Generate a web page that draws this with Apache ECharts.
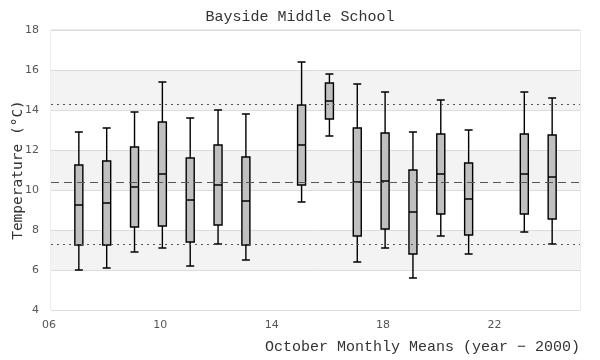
<!DOCTYPE html>
<html><head><meta charset="utf-8">
<script src="https://cdn.jsdelivr.net/npm/echarts@6/dist/echarts.min.js"></script>
<style>html,body{margin:0;padding:0;background:#fff}#c{width:600px;height:360px}</style>
</head><body><div id="c"></div>
<script>
const years = [7, 8, 9, 10, 11, 12, 13, 15, 16, 17, 18, 19, 20, 21, 23, 24];
const mins    = [6.0, 6.1, 6.9, 7.1, 6.2, 7.3, 6.5, 9.4, 12.7, 6.4, 7.1, 5.6, 7.7, 6.8, 7.9, 7.3];
const q1s     = [7.25, 7.25, 8.15, 8.2, 7.4, 8.25, 7.25, 10.25, 13.55, 7.7, 8.05, 6.8, 8.8, 7.75, 8.8, 8.55];
const medians = [9.25, 9.35, 10.15, 10.8, 9.5, 10.25, 9.45, 12.25, 14.45, 10.4, 10.45, 8.9, 10.8, 9.55, 10.8, 10.65];
const q3s     = [11.25, 11.45, 12.15, 13.4, 11.6, 12.25, 11.65, 14.25, 15.35, 13.1, 12.85, 11.0, 12.8, 11.35, 12.8, 12.75];
const maxs    = [12.9, 13.1, 13.9, 15.4, 13.6, 14.0, 13.8, 16.4, 15.8, 15.3, 14.9, 12.9, 14.5, 13.0, 14.9, 14.6];
const refMean = 10.4;
const refUpper = 14.3;
const refLower = 7.3;

const boxData = years.map((y, i) => [y, mins[i], q1s[i], medians[i], q3s[i], maxs[i]]);
const MONO = 'Liberation Mono';

const chart = echarts.init(document.getElementById('c'), null, {renderer: 'canvas'});
chart.setOption({
  animation: false,
  backgroundColor: '#fff',
  title: {
    text: 'Bayside Middle School',
    left: 'center', top: 5,
    textStyle: {fontFamily: MONO, fontSize: 15, fontWeight: 'normal', color: '#333'}
  },
  grid: {left: 51, right: 20, top: 30, bottom: 50, show: true, borderColor: '#dcdcdc', borderWidth: 1,
         containLabel: false, outerBoundsMode: 'none'},
  xAxis: {
    type: 'value', min: 6, max: 25, interval: 1,
    name: 'October Monthly Means (year \u2212 2000)',
    nameLocation: 'end', nameGap: 0,
    nameTextStyle: {fontFamily: MONO, fontSize: 15, color: '#333', align: 'right', verticalAlign: 'top', padding: [30, 0, 0, 0]},
    axisLine: {show: false}, axisTick: {show: false}, splitLine: {show: false},
    axisLabel: {
      fontFamily: 'DejaVu Sans', fontSize: 11, color: '#555', margin: 10,
      padding: [0, 4, 0, 0],
      showMaxLabel: false,
      formatter: v => ((v - 6) % 4 === 0 && v <= 22) ? String(v).padStart(2, '0') : ''
    }
  },
  yAxis: {
    type: 'value', min: 4, max: 18, interval: 2,
    name: 'Temperature (\u00b0C)', nameLocation: 'middle', nameGap: 25,
    nameMoveOverlap: false,
    nameTextStyle: {fontFamily: 'DejaVu Sans Mono', fontSize: 14.5, color: '#333'},
    axisLine: {show: false}, axisTick: {show: false},
    axisLabel: {fontFamily: 'DejaVu Sans', fontSize: 11, color: '#555', margin: 12},
    splitLine: {show: true, lineStyle: {color: '#dcdcdc', width: 1}},
    splitArea: {show: true, areaStyle: {color: ['#ffffff', '#f3f3f3']}}
  },
  series: [{
    type: 'boxplot',
    data: boxData,
    boxWidth: [8, 8],
    itemStyle: {color: '#c0c0c0', borderColor: '#000', borderWidth: 1.4},
    emphasis: {disabled: true},
    markLine: {
      silent: true, symbol: 'none', label: {show: false},
      data: [
        {yAxis: refUpper, lineStyle: {color: '#555', type: [2, 4], width: 1.2}},
        {yAxis: refMean, lineStyle: {color: '#555', type: [8, 5], width: 1.2}},
        {yAxis: refLower, lineStyle: {color: '#555', type: [2, 4], width: 1.2}}
      ]
    }
  }]
});
</script></body></html>
